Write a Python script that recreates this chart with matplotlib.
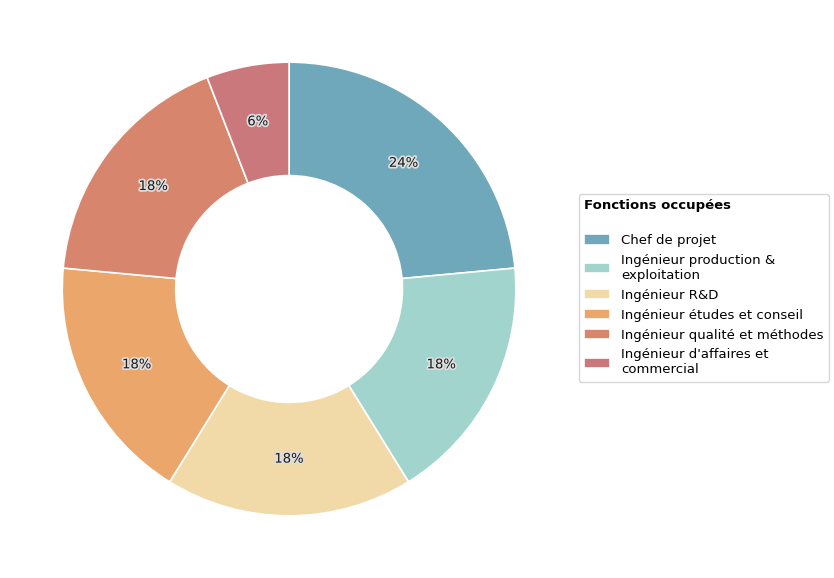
import matplotlib
matplotlib.use("Agg")
import matplotlib.pyplot as plt
import matplotlib.patheffects as pe

labels = ["Chef de projet", "Ingénieur production &\nexploitation", "Ingénieur R&D",
          "Ingénieur études et conseil", "Ingénieur qualité et méthodes",
          "Ingénieur d'affaires et\ncommercial"]
counts = [4, 3, 3, 3, 3, 1]
colors = ["#6fa8ba", "#a0d4cd", "#f2daa8", "#eaa66b", "#d7866d", "#ca787c"]

fig = plt.figure(figsize=(8.34, 5.78), dpi=100)
ax = fig.add_axes([0.0066, 0.0095, 0.680, 0.981])

wedges, texts, autotexts = ax.pie(
    counts, colors=colors, startangle=90, counterclock=False,
    autopct="%1.0f%%", pctdistance=0.75,
    wedgeprops=dict(width=0.5, edgecolor="white", linewidth=1.2),
    textprops=dict(fontsize=9.5, color="#1a1a1a"))
for t in autotexts:
    t.set_path_effects([pe.withStroke(linewidth=2.5, foreground="#dddddd")])
ax.set_aspect("equal")

leg = fig.legend(wedges, labels, title="Fonctions occupées\n", loc="center left",
                 bbox_to_anchor=(0.694, 0.502), borderaxespad=0,
                 fontsize=9.5, title_fontsize=9.5, labelspacing=0.52,
                 handleheight=0.8, alignment="left", frameon=True)
leg.get_title().set_fontweight("bold")

fig.savefig("out.png", dpi=100)
